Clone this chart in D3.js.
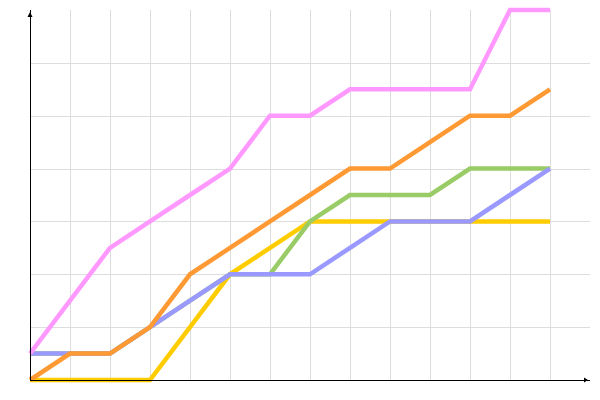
<!DOCTYPE html>
<html><head><meta charset="utf-8">
<script src="https://cdn.jsdelivr.net/npm/d3@7"></script>
<style>body{margin:0;background:#fff}svg{display:block}</style>
</head><body><svg width="600" height="400"></svg>
<script>
const steps = [0,1,2,3,4,5,6,7,8,9,10,11,12,13];
const yellow = [0,0,0,0,2,4,5,6,6,6,6,6,6,6];
const green  = [1,1,1,2,3,4,4,6,7,7,7,8,8,8];
const blue   = [1,1,1,2,3,4,4,4,5,6,6,6,7,8];
const orange = [0,1,1,2,4,5,6,7,8,8,9,10,10,11];
const pink   = [1,3,5,6,7,8,10,10,11,11,11,11,14,14];
const xGridTicks = [1,2,3,4,5,6,7,8,9,10,11,12,13];
const yGridTicks = [2,4,6,8,10,12];

const series = [
  {values: yellow, color: "#ffcc00"},
  {values: green, color: "#99cc66"},
  {values: blue, color: "#9999ff"},
  {values: orange, color: "#ff9933"},
  {values: pink, color: "#ff99ff"}
];

const svg = d3.select("svg");
const x = d3.scaleLinear().domain([0,14]).range([30,590]);
const y = d3.scaleLinear().domain([0,14]).range([380,10]);

const grid = svg.append("g").attr("stroke","#dddddd").attr("stroke-width",1).attr("shape-rendering","crispEdges");
grid.selectAll("line.v").data(xGridTicks).join("line").attr("class","v")
  .attr("x1",d=>x(d)).attr("x2",d=>x(d)).attr("y1",y(14)).attr("y2",y(0));
grid.selectAll("line.h").data(yGridTicks).join("line").attr("class","h")
  .attr("x1",x(0)).attr("x2",x(14)).attr("y1",d=>Math.round(y(d))).attr("y2",d=>Math.round(y(d)));

const line = d3.line().x((d,i)=>x(steps[i])).y(d=>y(d));
svg.append("g").selectAll("path").data(series).join("path")
  .attr("d",d=>line(d.values)).attr("fill","none").attr("stroke",d=>d.color)
  .attr("stroke-width",4.5).attr("stroke-linejoin","miter");

// axes
const ax = svg.append("g").attr("shape-rendering","crispEdges");
ax.append("line").attr("x1",x(0)).attr("x2",x(14)).attr("y1",y(0)).attr("y2",y(0)).attr("stroke","#000");
ax.append("line").attr("x1",x(0)).attr("x2",x(0)).attr("y1",y(0)).attr("y2",y(14)).attr("stroke","#000");
svg.append("path").attr("d",`M${x(14)-6},${y(0)-2.5} L${x(14)-2},${y(0)} L${x(14)-6},${y(0)+2.5} Z`).attr("fill","#000");
svg.append("path").attr("d",`M${x(0)-2.5},${y(14)+7} L${x(0)},${y(14)+2} L${x(0)+2.5},${y(14)+7} Z`).attr("fill","#000");
</script></body></html>
